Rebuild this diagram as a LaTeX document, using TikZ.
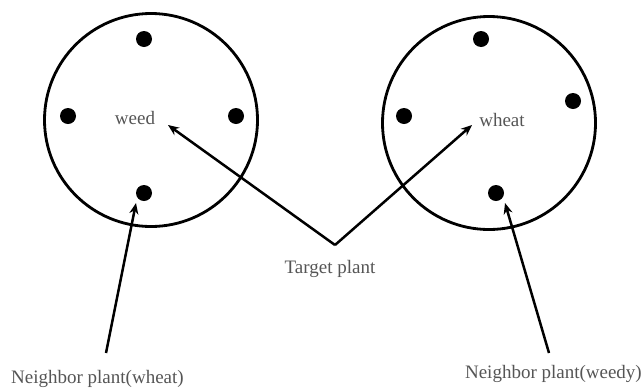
\documentclass[tikz,border=0pt]{standalone}
\usepackage{fontspec}
\setmainfont{Liberation Serif}
\usetikzlibrary{arrows.meta}
\definecolor{txtgray}{RGB}{85,85,85}
\begin{document}
\begin{tikzpicture}[x=1pt,y=-1pt,
  plot/.style={draw, circle, line width=2.8pt, minimum size=213pt, inner sep=0pt},
  dot/.style={circle, fill=black, minimum size=16pt, inner sep=0pt},
  lbl/.style={text=txtgray, font=\fontsize{19}{22}\selectfont, inner sep=0pt},
  arr/.style={line width=2.5pt, -{Stealth[length=11pt,width=9pt]}}
]
\useasboundingbox (0,0) rectangle (644,389);
% left plot
\node[plot] (P1) at (151,120) {};
\node[dot] (d1t) at (144,39) {};
\node[dot] (d1l) at (68,116) {};
\node[dot] (d1r) at (236,116) {};
\node[dot] (d1b) at (144,193) {};
\node[lbl] (weed) at (135,118) {weed};
% right plot
\node[plot] (P2) at (489,123) {};
\node[dot] (d2t) at (481,39) {};
\node[dot] (d2l) at (404,116) {};
\node[dot] (d2r) at (573,101) {};
\node[dot] (d2b) at (496,193) {};
\node[lbl] (wheat) at (502,120) {wheat};
% target plant
\coordinate (apex) at (335,245);
\coordinate (tw) at (168,125);
\coordinate (th) at (472,125);
\draw[arr] (apex) -- (tw);
\draw[arr] (apex) -- (th);
\node[lbl] (target) at (330,269) {Target plant};
% neighbors
\coordinate (n1s) at (106,353);
\coordinate (n1e) at (136,203);
\coordinate (n2s) at (549,353);
\coordinate (n2e) at (505,203);
\draw[arr] (n1s) -- (n1e);
\draw[arr] (n2s) -- (n2e);
\node[lbl, anchor=west] (nb1) at (11,379) {Neighbor plant(wheat)};
\node[lbl, anchor=east] (nb2) at (642,374) {Neighbor plant(weedy)};
\end{tikzpicture}
\end{document}
